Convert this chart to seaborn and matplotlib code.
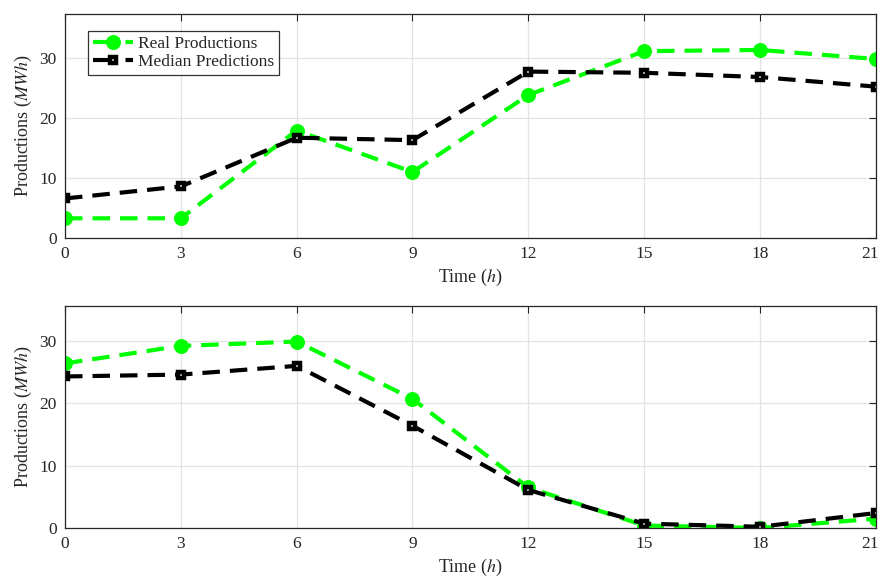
import matplotlib
matplotlib.use("Agg")
import matplotlib.pyplot as plt
import matplotlib.transforms as mtransforms
import pandas as pd
import seaborn as sns

hours = [0, 3, 6, 9, 12, 15, 18, 21]
real_day1 = [3.3, 3.3, 17.9, 11.0, 23.8, 31.1, 31.3, 29.8]
median_day1 = [6.6, 8.6, 16.7, 16.3, 27.7, 27.5, 26.8, 25.2]
real_day2 = [26.4, 29.2, 29.9, 20.7, 6.5, 0.4, 0.0, 1.5]
median_day2 = [24.3, 24.6, 26.0, 16.4, 6.1, 0.7, 0.2, 2.4]
ylims = [37.3, 35.6]

sns.set_style("white")
plt.rcParams["font.family"] = ["Liberation Serif", "DejaVu Serif"]
plt.rcParams["mathtext.fontset"] = "stix"

fig = plt.figure(figsize=(8.82, 5.78), dpi=100)
ax_top = fig.add_axes([0.0737, 0.588, 0.9193, 0.388])
ax_bot = fig.add_axes([0.0737, 0.0865, 0.9193, 0.3841])

panels = [(ax_top, real_day1, median_day1, ylims[0]),
          (ax_bot, real_day2, median_day2, ylims[1])]

dash = (0, (4.2, 2.4))
for ax, real, median, ymax in panels:
    df = pd.DataFrame({"hour": hours, "real": real, "median": median})
    sns.lineplot(data=df, x="hour", y="real", ax=ax, color="#00ff00",
                 linestyle=dash, linewidth=3, marker="o",
                 markersize=10, markeredgecolor="#00ff00",
                 label="Real Productions")
    sns.lineplot(data=df, x="hour", y="median", ax=ax, color="black",
                 linestyle=dash, linewidth=3, marker="s",
                 markersize=5, markerfacecolor="white",
                 markeredgecolor="black", markeredgewidth=3.2,
                 label="Median Predictions")
    ax.set_xlim(0, 21)
    ax.set_ylim(0, ymax)
    ax.set_xticks(hours)
    ax.set_yticks([0, 10, 20, 30])
    ax.grid(True, color="#e3e3e3", linewidth=0.9)
    ax.tick_params(direction="in", top=True, right=True, length=5,
                   width=0.8, labelsize=12.5, color="#262626",
                   labelcolor="#262626", pad=6)
    for sp in ax.spines.values():
        sp.set_color("#262626")
        sp.set_linewidth(0.9)
    ax.set_xlabel("Time ($h$)", fontsize=13, color="#262626", labelpad=3)
    ax.set_ylabel("Productions ($MWh$)", fontsize=13, color="#262626",
                  labelpad=4)
    # keep the last tick label inside the figure, like the original
    last = ax.get_xticklabels()[-1]
    last.set_transform(last.get_transform() + mtransforms.ScaledTranslation(
        -6 / 100, 0, fig.dpi_scale_trans))

leg = ax_top.legend(loc="upper left", bbox_to_anchor=(0.028, 0.925),
                    fontsize=12.5, frameon=True, fancybox=False,
                    edgecolor="black", borderpad=0.3, handlelength=2.3,
                    handletextpad=0.3, labelspacing=0.1, borderaxespad=0)
leg.get_frame().set_linewidth(0.9)
for line in leg.get_lines():
    line.set_linestyle((0, (6, 1.8)))
ax_bot.legend().remove()

fig.savefig("out.png", dpi=100)
plt.close(fig)
